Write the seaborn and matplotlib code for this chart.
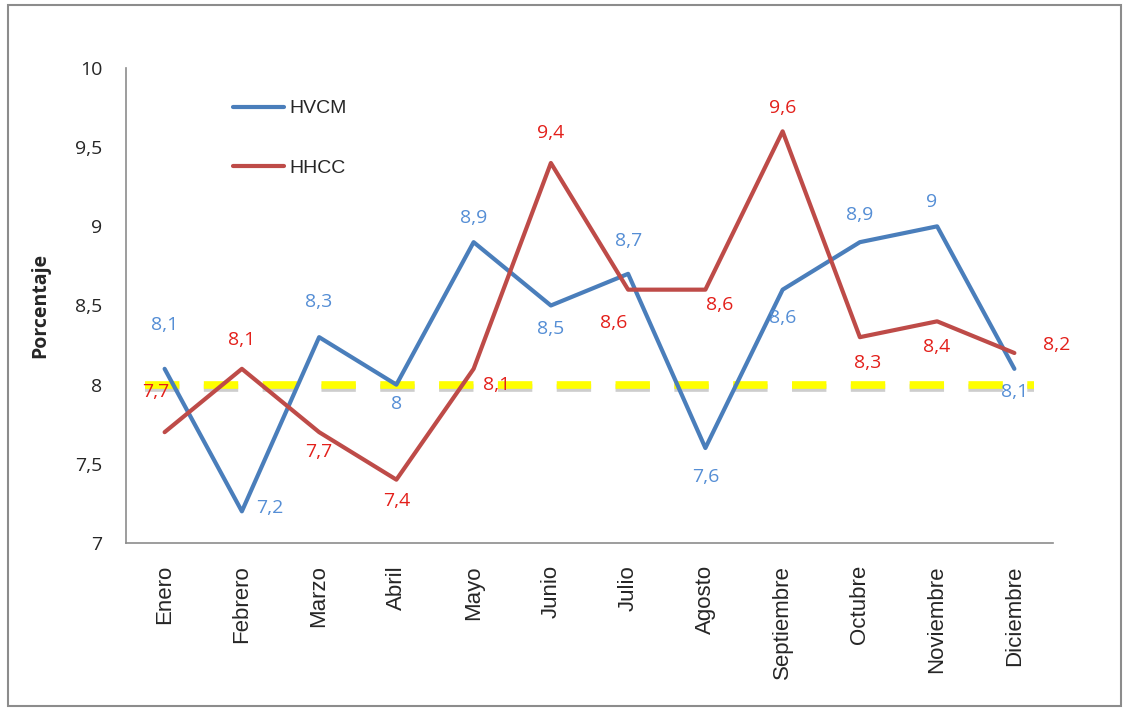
import matplotlib
matplotlib.use("Agg")
import matplotlib.pyplot as plt
import matplotlib.patheffects as pe
import seaborn as sns
import pandas as pd

months = ["Enero", "Febrero", "Marzo", "Abril", "Mayo", "Junio", "Julio",
          "Agosto", "Septiembre", "Octubre", "Noviembre", "Diciembre"]
hvcm = [8.1, 7.2, 8.3, 8.0, 8.9, 8.5, 8.7, 7.6, 8.6, 8.9, 9.0, 8.1]
hhcc = [7.7, 8.1, 7.7, 7.4, 8.1, 9.4, 8.6, 8.6, 9.6, 8.3, 8.4, 8.2]
reference = 8.0
yticks = [7, 7.5, 8, 8.5, 9, 9.5, 10]
ytick_labels = ["7", "7,5", "8", "8,5", "9", "9,5", "10"]

# label offsets in pixels (dx, dy)
hvcm_off = [(0, 44), (28, 3), (0, 35), (0, -19), (0, 24), (0, -23), (0, 33),
            (0, -29), (0, -28), (0, 27), (-6, 24), (0, -23)]
hhcc_off = [(-9, 40), (0, 29), (0, -20), (0, -21), (23, -16), (0, 30), (-14, -33),
            (14, -15), (0, 23), (8, -26), (0, -26), (42, 8)]

sns.set_theme(style="white")
plt.rcParams['font.family'] = ['Liberation Sans', 'DejaVu Sans']

BLUE = "#4A7EBB"
RED = "#BE4B48"
BLUE_T = "#558ED5"
RED_T = "#E3201B"

df = pd.DataFrame({
    "Mes": months * 2,
    "Valor": hvcm + hhcc,
    "Serie": ["HVCM"] * 12 + ["HHCC"] * 12,
})

fig = plt.figure(figsize=(11.29, 7.13), dpi=100)
ax = fig.add_axes([126 / 1129, 1 - 543 / 713, 927 / 1129, (543 - 68) / 713])

sns.lineplot(data=df, x="Mes", y="Valor", hue="Serie", palette={"HVCM": BLUE, "HHCC": RED},
             linewidth=3.0, ax=ax, sort=False)

ax.axhline(reference, xmin=0.02, xmax=0.98, color="#FFFF00", lw=5.5,
           dashes=(4.5, 3.2),
           path_effects=[pe.SimpleLineShadow(offset=(0, -2.5), shadow_color="#909090", alpha=0.45),
                         pe.Normal()],
           zorder=1.5)

for i, v in enumerate(hvcm):
    ax.annotate(f"{v:g}".replace(".", ","), (i, v), xytext=hvcm_off[i], textcoords="offset pixels",
                ha="center", va="center", color=BLUE_T, fontsize=14, family="Open Sans")
for i, v in enumerate(hhcc):
    ax.annotate(f"{v:g}".replace(".", ","), (i, v), xytext=hhcc_off[i], textcoords="offset pixels",
                ha="center", va="center", color=RED_T, fontsize=14, family="Open Sans")

ax.set_xlim(-0.5, 11.5)
ax.set_ylim(7, 10)
ax.set_yticks(yticks)
ax.set_yticklabels(ytick_labels, family="Open Sans", fontsize=14)
ax.tick_params(axis="y", length=0, pad=17)
ax.tick_params(axis="x", length=0, pad=16)
plt.setp(ax.get_xticklabels(), rotation=90, fontsize=16)
ax.set_xlabel("")
ax.set_ylabel("Porcentaje", fontsize=14, fontweight="bold", family="Open Sans", labelpad=18)

for s in ["top", "right"]:
    ax.spines[s].set_visible(False)
for s in ["left", "bottom"]:
    ax.spines[s].set_color("#8c8c8c")
    ax.spines[s].set_linewidth(1.2)

handles, labels = ax.get_legend_handles_labels()
order = [labels.index("HVCM"), labels.index("HHCC")]
leg = ax.legend([handles[k] for k in order], [labels[k] for k in order],
                loc="upper left", bbox_to_anchor=(0.097, 0.97), frameon=False,
                fontsize=14, labelspacing=2.15, handlelength=2.6, handletextpad=0.3)

fig.patches.append(plt.Rectangle((8 / 1129, 1 - 706 / 713), (1121 - 8) / 1129, (706 - 5) / 713,
                                 transform=fig.transFigure, fill=False, edgecolor="#8c8c8c", lw=1.5))

fig.savefig("out.png", dpi=100)
